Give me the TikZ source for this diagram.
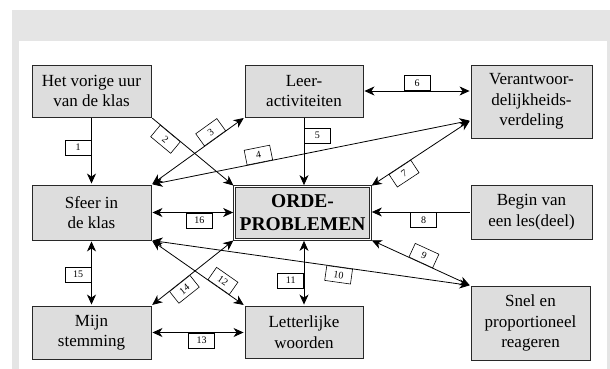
\documentclass[tikz,border=0pt]{standalone}
\usepackage{fontspec}
\setmainfont{Liberation Serif}
\newfontfamily\tms{Liberation Serif}
\usetikzlibrary{arrows.meta,calc}
\definecolor{band}{RGB}{229,229,229}
\definecolor{boxfill}{RGB}{221,221,221}
\definecolor{edge}{RGB}{40,40,40}
\begin{document}
\begin{tikzpicture}[x=1pt,y=-1pt,
  >={Stealth[length=10pt,width=9pt,inset=3pt]},
  box/.style={draw=edge, line width=0.9pt, fill=boxfill, align=center,
    font=\tms\fontsize{17}{20.5}\selectfont, inner sep=0pt},
  lab/.style={draw=black, line width=0.6pt, fill=white,
    font=\tms\fontsize{10}{10}\selectfont, minimum width=26pt, minimum height=15pt, inner sep=0pt},
  conn/.style={line width=0.8pt, draw=black, shorten <=1pt, shorten >=1pt}
]
\useasboundingbox (0,0) rectangle (610,369);
\fill[band] (12,10) rectangle (610,369);
\fill[white] (19,41) rectangle (607,369);

% nodes
\node[box, minimum width=119pt, minimum height=52pt] (hv) at (91.5,91) {Het vorige uur\\van de klas};
\node[box, minimum width=118pt, minimum height=52pt] (leer) at (304,91) {Leer-\\activiteiten};
\node[box, minimum width=121pt, minimum height=73pt] (ver) at (531.5,101.5) {Verantwoor-\\delijkheids-\\verdeling};
\node[box, minimum width=119pt, minimum height=55pt] (sfeer) at (91.5,212.5) {Sfeer in\\de klas};
\node[box, double=white, double distance=1.6pt, line width=0.7pt,
  minimum width=136pt, minimum height=53pt,
  font=\tms\fontsize{19.5}{23}\selectfont\bfseries] (orde) at (302.5,213) {ORDE-\\PROBLEMEN};
\node[box, minimum width=121pt, minimum height=54pt] (begin) at (531.5,212) {Begin van\\een les(deel)};
\node[box, minimum width=119pt, minimum height=53pt] (mijn) at (91.5,332.5) {Mijn\\stemming};
\node[box, minimum width=118pt, minimum height=52pt] (letter) at (304,332) {Letterlijke\\woorden};
\node[box, minimum width=119pt, minimum height=74pt] (snel) at (530.5,323) {Snel en\\proportioneel\\reageren};

\coordinate (vp) at ($(ver.south west)+(0,-18)$);

% straight connectors
\draw[conn,->] (hv.south) -- (sfeer.north) node[lab,pos=.45,anchor=east]{1};
\draw[conn,->] (leer.south) -- (leer.south |- orde.north) node[lab,pos=.26,anchor=west]{5};
\draw[conn,<->] (leer.east) -- (leer.east -| ver.west) node[lab,pos=.5,anchor=south]{6};
\draw[conn,<->] (sfeer.east) -- (sfeer.east -| orde.west) node[lab,pos=.58,anchor=north]{16};
\draw[conn,->] (begin.west) -- (begin.west -| orde.east) node[lab,pos=.47,anchor=north]{8};
\draw[conn,<->] (sfeer.south) -- (mijn.north) node[lab,pos=.52,anchor=east]{15};
\draw[conn,<->] (orde.south -| letter.north) -- (letter.north) node[lab,pos=.62,anchor=east]{11};
\draw[conn,<->] (mijn.east) -- (mijn.east -| letter.west) node[lab,pos=.54,anchor=north]{13};

% diagonal connectors
\draw[conn,->] (hv.south east) -- (orde.north west) node[lab,sloped,pos=.23,below]{2};
\draw[conn,<->] (sfeer.north east) -- (leer.south west) node[lab,sloped,pos=.685,above]{3};
\draw[conn,<->] (sfeer.north east) -- (vp) node[lab,sloped,pos=.34,above]{4};
\draw[conn,<->] (orde.north east) -- (vp) node[lab,sloped,pos=.29,below]{7};
\draw[conn,<->] (orde.south east) -- (snel.north west) node[lab,sloped,pos=.5,above]{9};
\draw[conn,<->] (sfeer.south east) -- (snel.north west) node[lab,sloped,pos=.59,below]{10};
\draw[conn,<->] (sfeer.south east) -- (letter.north west) node[lab,sloped,pos=.72,above]{12};
\draw[conn,<->] (mijn.north east) -- (orde.south west) node[lab,sloped,pos=.34,below]{14};
\end{tikzpicture}
\end{document}
